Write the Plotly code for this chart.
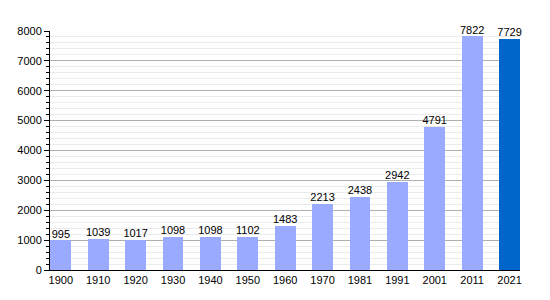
import plotly.graph_objects as go

years = ["1900", "1910", "1920", "1930", "1940", "1950", "1960", "1970", "1981", "1991", "2001", "2011", "2021"]
population = [995, 1039, 1017, 1098, 1098, 1102, 1483, 2213, 2438, 2942, 4791, 7822, 7729]
colors = ["#99AAFF"] * 12 + ["#0066CC"]

xs = list(range(len(years)))
fig = go.Figure()
fig.add_trace(go.Bar(
    x=xs, y=population,
    marker=dict(color=colors, line=dict(width=0)),
    width=0.56,
))
fig.add_trace(go.Scatter(
    x=xs, y=population, mode="text",
    text=[str(v) for v in population], textposition="top center",
    textfont=dict(size=11, color="black", family="Liberation Sans, Arial"),
    cliponaxis=False,
))
fig.update_layout(
    width=550, height=300,
    margin=dict(l=50, r=30, t=31, b=30),
    plot_bgcolor="white", paper_bgcolor="white",
    showlegend=False,
    font=dict(family="Liberation Sans, Arial", size=11, color="black"),
    bargap=0,
)
fig.update_xaxes(
    tickmode="array", tickvals=xs, ticktext=years,
    range=[-0.29, 12.28], showgrid=False, showline=True, linecolor="black",
    linewidth=1, ticks="", tickfont=dict(size=11), zeroline=False,
)
fig.update_yaxes(
    range=[0, 8000], dtick=1000, showline=True, linecolor="black", linewidth=1,
    ticks="outside", ticklen=5, tickcolor="black",
    gridcolor="#b0b0b0", gridwidth=1,
    minor=dict(dtick=200, showgrid=True, gridcolor="#ebebeb", ticks="outside", ticklen=3, tickcolor="black"),
    zeroline=False, tickfont=dict(size=11),
)
fig.write_html("out.html")
